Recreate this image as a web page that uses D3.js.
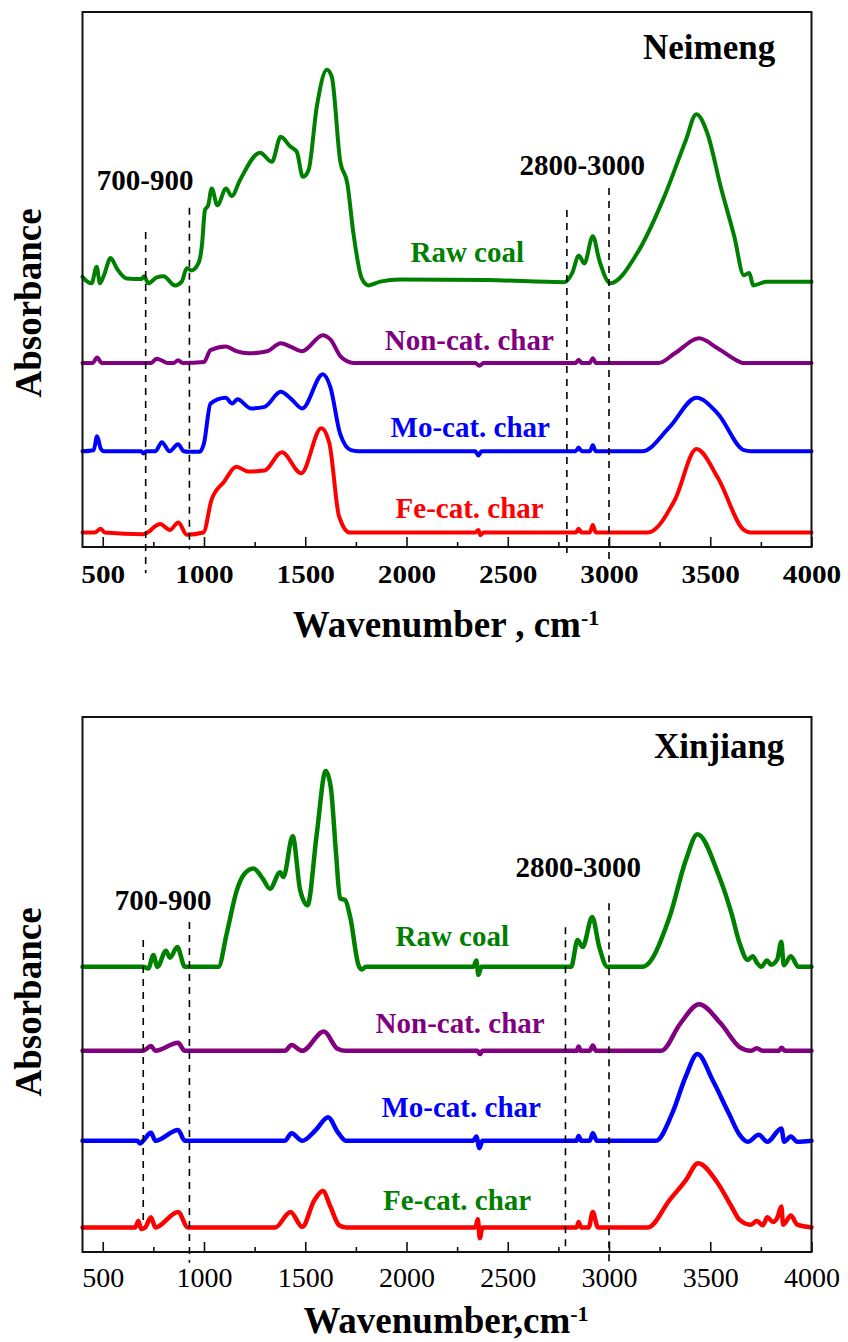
<!DOCTYPE html>
<html>
<head>
<meta charset="utf-8">
<script src="https://cdn.jsdelivr.net/npm/d3@7"></script>
<style>
  html, body { margin: 0; padding: 0; background: #ffffff; }
  svg text { font-family: "Liberation Serif", "Times New Roman", serif; }
</style>
</head>
<body>
<svg id="chart" width="848" height="1342"></svg>
<script>
// ---- axis ticks (wavenumber, cm-1) ----
const majorTicks = [500, 1000, 1500, 2000, 2500, 3000, 3500, 4000];
const minorTicks = [750, 1250, 1750, 2250, 2750, 3250, 3750];

const seriesNames = ["Raw coal", "Non-cat. char", "Mo-cat. char", "Fe-cat. char"];

// ---- Neimeng spectra: [wavenumber, absorbance above the trace's own baseline] ----
const neimengRaw = [
  [400, 0.1], [420, 0.02], [445, -0.02], [470, 0.29], [486, -0.02], [505, 0.12], [539, 0.45], [569, 0.26],
  [618, 0.07], [692, 0.06], [704, 0.11], [725, -0.02], [767, 0.09], [800, 0.11], [857, -0.06],
  [890, 0.01], [915, 0.26], [939, 0.22], [972, 0.35], [989, 0.66], [1005, 1.35], [1021, 1.44],
  [1038, 1.75], [1066, 1.44], [1109, 1.75], [1137, 1.61], [1178, 1.91], [1277, 2.42], [1335, 2.25],
  [1379, 2.72], [1425, 2.54], [1458, 2.44], [1488, 1.97], [1516, 2.09], [1557, 3.28], [1607, 3.97],
  [1631, 3.84], [1672, 2.28], [1708, 1.84], [1738, 0.91], [1779, 0.07], [1812, -0.06], [1870, 0.01],
  [1969, 0.05], [2400, 0.04], [2779, 0.0], [2818, 0.17], [2851, 0.5], [2878, 0.35], [2920, 0.86],
  [2952, 0.41], [3006, -0.02], [3139, 0.54], [3272, 1.59], [3379, 2.65], [3431, 3.14], [3486, 2.78],
  [3552, 1.78], [3619, 0.85], [3666, 0.13], [3693, 0.17], [3712, -0.06], [3779, 0.01], [4000, 0.01]
];
const neimengNonCat = [
  [400, 0], [450, 0], [472, 0.1], [495, 0], [740, 0], [765, 0.08], [790, 0.05], [820, 0], [850, 0],
  [872, 0.05], [895, 0], [1000, 0.02], [1032, 0.24], [1107, 0.31], [1160, 0.22], [1218, 0.18],
  [1312, 0.22], [1379, 0.37], [1430, 0.3], [1485, 0.22], [1587, 0.52], [1624, 0.44], [1677, 0.11],
  [1739, 0], [2340, 0], [2360, -0.05], [2380, 0], [2835, 0], [2850, 0.06], [2865, 0], [2905, 0],
  [2920, 0.09], [2935, 0], [3245, 0], [3325, 0.18], [3445, 0.46], [3538, 0.27], [3645, 0.02],
  [3660, 0], [4000, 0]
];
const neimengMo = [
  [400, 0], [455, 0.02], [472, 0.28], [490, 0.05], [505, 0], [690, 0], [700, -0.04], [715, 0],
  [760, 0], [792, 0.17], [830, 0], [872, 0.13], [900, 0], [926, -0.01], [979, -0.01], [1000, 0.15],
  [1032, 0.89], [1107, 1.0], [1139, 0.89], [1165, 0.97], [1232, 0.8], [1299, 0.83], [1379, 1.11],
  [1430, 0.98], [1485, 0.8], [1587, 1.44], [1624, 1.2], [1672, 0.33], [1726, 0.02], [1760, 0],
  [2340, 0], [2355, -0.08], [2370, 0], [2835, 0], [2850, 0.07], [2865, 0], [2905, 0], [2920, 0.11],
  [2935, 0], [3165, 0], [3299, 0.45], [3432, 1.0], [3538, 0.7], [3666, 0.02], [3700, 0], [4000, 0]
];
const neimengFe = [
  [400, 0], [460, 0], [490, 0.07], [510, 0], [700, -0.03], [730, 0.02], [750, 0.09], [783, 0.16],
  [832, 0.05], [873, 0.19], [915, -0.04], [997, 0], [1037, 0.61], [1099, 0.95], [1160, 1.23],
  [1218, 1.14], [1299, 1.16], [1384, 1.5], [1480, 1.11], [1579, 1.95], [1619, 1.67], [1667, 0.3],
  [1720, 0], [2340, 0], [2355, 0.05], [2365, -0.05], [2380, 0], [2835, 0], [2850, 0.07], [2865, 0],
  [2905, 0], [2920, 0.14], [2935, 0], [3192, 0], [3325, 0.61], [3432, 1.56], [3538, 1.02],
  [3666, 0.05], [3700, 0], [4000, 0]
];
const neimengOffsets = [4.95, 3.44, 1.79, 0.27];

// ---- Xinjiang spectra ----
const xinjiangRaw = [
  [400, 0], [700, 0], [725, -0.03], [750, 0.22], [770, 0], [812, 0.3], [832, 0.17], [868, 0.37],
  [906, 0], [1071, 0], [1112, 0.62], [1162, 1.43], [1200, 1.74], [1244, 1.84], [1290, 1.65],
  [1326, 1.46], [1376, 1.77], [1392, 1.68], [1438, 2.44], [1475, 1.43], [1511, 1.15], [1557, 2.49],
  [1601, 3.66], [1626, 3.36], [1652, 2.12], [1672, 1.28], [1697, 1.25], [1722, 0.93], [1763, 0.03],
  [1779, -0.05], [1800, 0], [2330, 0], [2345, 0.12], [2355, -0.15], [2370, 0], [2813, 0],
  [2845, 0.5], [2870, 0.37], [2917, 0.93], [2952, 0.37], [2992, 0], [3165, 0], [3299, 0.93],
  [3379, 1.99], [3437, 2.48], [3538, 1.75], [3605, 1.0], [3645, 0.44], [3685, 0.13], [3710, 0.2],
  [3730, 0.08], [3752, 0], [3780, 0.12], [3800, 0.04], [3831, 0.14], [3851, 0.47], [3863, 0.03],
  [3898, 0.2], [3935, 0], [4000, 0]
];
const xinjiangNonCat = [
  [400, 0], [700, 0], [738, 0.09], [760, 0], [872, 0.15], [905, 0], [1400, 0], [1432, 0.11],
  [1485, 0], [1592, 0.36], [1659, 0.04], [1700, 0], [2350, 0], [2363, -0.06], [2375, 0], [2840, 0],
  [2850, 0.08], [2860, 0], [2905, 0], [2920, 0.1], [2935, 0], [3258, 0], [3352, 0.51], [3445, 0.87],
  [3552, 0.51], [3645, 0.07], [3700, 0], [3730, 0.05], [3760, 0], [3840, 0], [3851, 0.06],
  [3870, 0], [4000, 0]
];
const xinjiangMo = [
  [400, 0], [670, 0], [685, -0.05], [700, 0], [738, 0.15], [760, 0], [872, 0.2], [905, 0],
  [1400, 0], [1432, 0.14], [1485, 0], [1552, 0.2], [1613, 0.44], [1659, 0.17], [1700, 0],
  [2330, 0], [2345, 0.08], [2360, -0.14], [2375, 0], [2840, 0], [2850, 0.09], [2862, 0], [2905, 0],
  [2920, 0.14], [2940, 0], [3232, 0], [3312, 0.51], [3379, 1.2], [3437, 1.62], [3512, 1.13],
  [3592, 0.51], [3645, 0.11], [3685, -0.02], [3740, 0.11], [3782, -0.02], [3851, 0.23],
  [3865, -0.02], [3898, 0.08], [3930, -0.02], [4000, 0]
];
const xinjiangFe = [
  [400, 0], [660, 0], [676, 0.12], [690, -0.03], [710, 0], [738, 0.19], [760, 0], [872, 0.29],
  [920, 0], [1352, 0], [1427, 0.29], [1485, 0.01], [1544, 0.5], [1587, 0.68], [1624, 0.39],
  [1667, 0.04], [1700, 0], [2340, 0], [2352, 0.15], [2362, -0.2], [2375, 0], [2840, 0],
  [2850, 0.1], [2862, 0], [2900, 0], [2920, 0.29], [2945, 0], [3192, 0], [3299, 0.51],
  [3379, 0.88], [3440, 1.2], [3538, 0.82], [3605, 0.39], [3645, 0.14], [3700, 0.05], [3730, 0.12],
  [3760, 0.04], [3782, 0.19], [3810, 0.1], [3831, 0.18], [3851, 0.39], [3860, 0.05], [3898, 0.22],
  [3930, 0.05], [4000, 0]
];
const xinjiangOffsets = [5.33, 3.76, 2.08, 0.46];

// ---- dashed band markers: [wavenumber, upper absorbance, lower absorbance] ----
const neimengMarkers = [[712, 5.89, -0.49], [928, 6.34, -0.04], [2792, 6.30, -0.11], [3000, 6.71, -0.30]];
const xinjiangMarkers = [[700, 5.83, 0.5], [928, 6.17, -0.2], [2785, 6.07, 0.04], [3000, 6.52, -0.2]];

// ---- drawing ----
const W = 848;
const plotLeft = 82.5, plotRight = 811.5, plotHeight = 535;
const svg = d3.select("#chart");

const x = d3.scaleLinear().domain([400, 4000]).range([plotLeft, plotRight]);

const line = d3.line()
  .x(d => x(d[0]))
  .y(d => d[1])
  .curve(d3.curveMonotoneX);

function drawPanel(cfg) {
  const top = cfg.top, bottom = top + plotHeight;
  const y = d3.scaleLinear().domain([0, 10]).range([bottom, top]);
  const g = svg.append("g");

  // spectra
  cfg.series.forEach((s, i) => {
    const off = cfg.offsets[i];
    g.append("path")
      .attr("fill", "none")
      .attr("stroke", cfg.colors[i])
      .attr("stroke-width", cfg.strokeWidth)
      .attr("stroke-linejoin", "round")
      .attr("stroke-linecap", "round")
      .attr("d", line(s.map(p => [p[0], y(p[1] + off)])));
  });

  // dashed band markers
  g.selectAll("line.marker").data(cfg.markers).join("line")
    .attr("class", "marker")
    .attr("x1", d => x(d[0])).attr("x2", d => x(d[0]))
    .attr("y1", d => y(d[1])).attr("y2", d => y(d[2]))
    .attr("stroke", "#000").attr("stroke-width", 1.6)
    .attr("stroke-dasharray", "7,6");

  // frame
  g.append("rect")
    .attr("x", plotLeft).attr("y", top)
    .attr("width", plotRight - plotLeft).attr("height", plotHeight)
    .attr("fill", "none").attr("stroke", "#111").attr("stroke-width", 2);

  // major ticks + labels
  const axis = g.append("g").attr("transform", `translate(0,${bottom})`)
    .call(d3.axisBottom(x).tickValues(majorTicks).tickSizeInner(-10).tickSizeOuter(0).tickFormat(d3.format("d")));
  axis.select(".domain").remove();
  axis.selectAll(".tick line").attr("stroke", "#111").attr("stroke-width", 1.6);
  axis.selectAll(".tick text")
    .attr("y", cfg.tickLabelOffset).attr("dy", null)
    .attr("fill", "#000")
    .style("font-family", '"Liberation Serif", "Times New Roman", serif')
    .style("font-size", cfg.tickFontSize + "px")
    .style("font-weight", cfg.tickBold ? "bold" : "normal")
    .attr("transform", `scale(${cfg.tickStretch},1)`);

  // minor ticks
  const minor = g.append("g").attr("transform", `translate(0,${bottom})`)
    .call(d3.axisBottom(x).tickValues(minorTicks).tickSizeInner(-5).tickSizeOuter(0).tickFormat(""));
  minor.select(".domain").remove();
  minor.selectAll(".tick line").attr("stroke", "#111").attr("stroke-width", 1.6);

  // x axis title
  const xt = g.append("text")
    .attr("x", (plotLeft + plotRight) / 2 - 1)
    .attr("y", cfg.xTitleY)
    .attr("text-anchor", "middle")
    .style("font-size", "37px").style("font-weight", "bold").attr("fill", "#000");
  xt.append("tspan").text(cfg.xTitle);
  xt.append("tspan").attr("dy", cfg.supDy).style("font-size", "22px").text("-1");

  // y axis title
  g.append("text")
    .attr("transform", `translate(41,${cfg.yTitleY}) rotate(-90)`)
    .attr("text-anchor", "middle")
    .style("font-size", "37px").style("font-weight", "bold").attr("fill", "#000")
    .text("Absorbance");

  // region name
  g.append("text")
    .attr("x", x(cfg.name[1])).attr("y", y(cfg.name[2]))
    .attr("text-anchor", "end")
    .style("font-size", "35px").style("font-weight", "bold").attr("fill", "#000")
    .text(cfg.name[0]);

  // band labels
  cfg.bandLabels.forEach(b => {
    g.append("text")
      .attr("x", x(b[1])).attr("y", y(b[2]))
      .attr("text-anchor", "middle")
      .style("font-size", "29px").style("font-weight", "bold").attr("fill", "#000")
      .text(b[0]);
  });

  // series labels
  cfg.labelPos.forEach((p, i) => {
    g.append("text")
      .attr("x", x(p[0])).attr("y", y(p[1]))
      .attr("text-anchor", "middle")
      .style("font-size", "29px").style("font-weight", "bold")
      .attr("fill", cfg.labelColors[i])
      .text(seriesNames[i]);
  });
}

drawPanel({
  top: 12,
  series: [neimengRaw, neimengNonCat, neimengMo, neimengFe],
  offsets: neimengOffsets,
  colors: ["#008000", "#800080", "#0000ff", "#ff0000"],
  labelColors: ["#008000", "#800080", "#0000ff", "#ff0000"],
  labelPos: [[2300, 5.33], [2310, 3.68], [2315, 2.06], [2312, 0.54]],
  markers: neimengMarkers,
  bandLabels: [["700-900", 709, 6.67], ["2800-3000", 2868, 6.95]],
  name: ["Neimeng", 3821, 9.12],
  strokeWidth: 4,
  tickFontSize: 25, tickBold: true, tickStretch: 1.17, tickLabelOffset: 36,
  xTitle: "Wavenumber , cm", xTitleY: 637, supDy: -12,
  yTitleY: 303
});

drawPanel({
  top: 717,
  series: [xinjiangRaw, xinjiangNonCat, xinjiangMo, xinjiangFe],
  offsets: xinjiangOffsets,
  colors: ["#008000", "#800080", "#0000ff", "#ff0000"],
  labelColors: ["#008000", "#800080", "#0000ff", "#008000"],
  labelPos: [[2226, 5.72], [2265, 4.09], [2270, 2.52], [2250, 0.79]],
  markers: xinjiangMarkers,
  bandLabels: [["700-900", 798, 6.39], ["2800-3000", 2848, 7.01]],
  name: ["Xinjiang", 3866, 9.23],
  strokeWidth: 4.5,
  tickFontSize: 28, tickBold: false, tickStretch: 1, tickLabelOffset: 35,
  xTitle: "Wavenumber,cm", xTitleY: 1333, supDy: -12,
  yTitleY: 1002
});
</script>
</body>
</html>
